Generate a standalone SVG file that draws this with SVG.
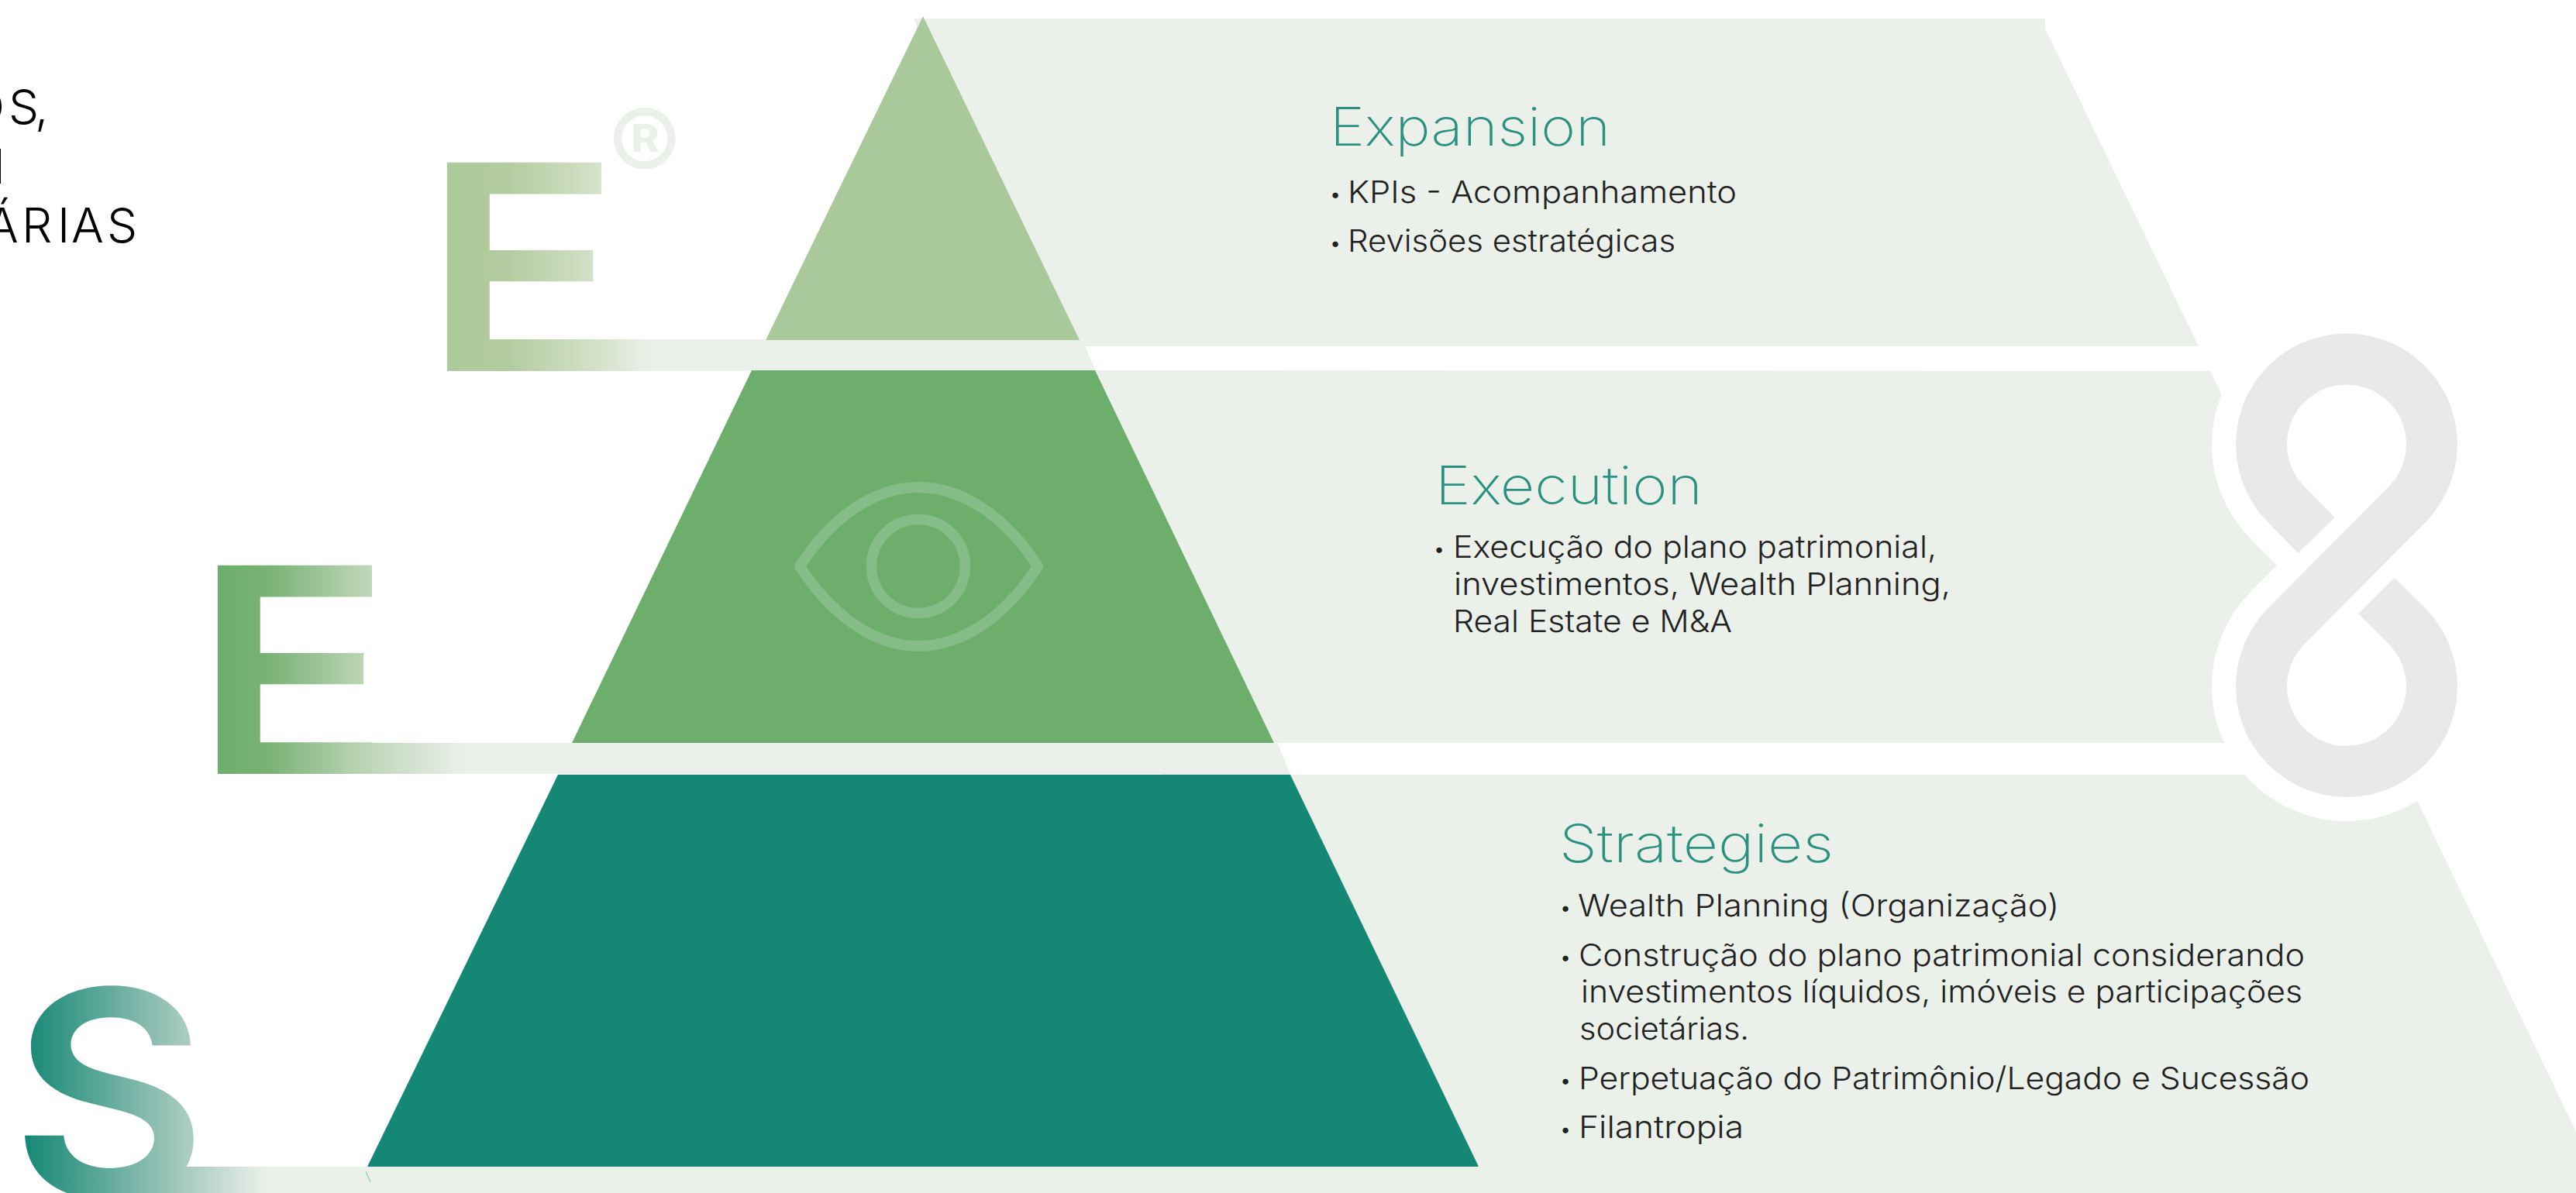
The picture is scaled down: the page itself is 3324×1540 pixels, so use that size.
<svg xmlns="http://www.w3.org/2000/svg" width="3324" height="1540" viewBox="0 0 3324 1540">
<style>
.pale{fill:#ebf0ea}
.body{font-family:Inter,"Open Sans","Liberation Sans",sans-serif;font-size:40px;font-weight:350;fill:#222}
.dot{font-family:Inter,"Open Sans","Liberation Sans",sans-serif;font-size:40px;font-weight:800;fill:#222;text-anchor:middle}
.title{font-family:Inter,"Open Sans","Liberation Sans",sans-serif;font-size:68px;font-weight:200;fill:#2a9080}
.side{font-family:Inter,"Open Sans","Liberation Sans",sans-serif;font-size:62px;font-weight:300;fill:#000}
.big{font-family:Inter,"Open Sans","Liberation Sans",sans-serif;font-size:370px;font-weight:570}
</style>
<defs>
<linearGradient id="g1" gradientUnits="userSpaceOnUse" x1="577" y1="0" x2="840" y2="0"><stop offset="0" stop-color="#aec99a"/><stop offset="0.3" stop-color="#b2cc9f"/><stop offset="0.75" stop-color="#d5e2ca"/><stop offset="1" stop-color="#ebf0ea"/></linearGradient>
<linearGradient id="g2" gradientUnits="userSpaceOnUse" x1="281" y1="0" x2="600" y2="0"><stop offset="0" stop-color="#6eae6c"/><stop offset="0.2" stop-color="#78b274"/><stop offset="0.6" stop-color="#bdd5b7"/><stop offset="1" stop-color="#ebf0ea"/></linearGradient>
<linearGradient id="g3" gradientUnits="userSpaceOnUse" x1="32" y1="0" x2="345" y2="0"><stop offset="0" stop-color="#158875"/><stop offset="0.6" stop-color="#9cc4b8"/><stop offset="1" stop-color="#ebf0ea"/></linearGradient>
</defs>
<g id="side-text">
<text class="side" x="-41 11 45" y="160">OS,</text>
<text class="side" x="7" y="237" text-anchor="end">I</text>
<text class="side" x="-18 28 74 92 138" y="313">ÁRIAS</text>
</g>
<g id="band-expansion">
<polygon class="pale" points="1180,24 2639,24 2639,37 2837,447 1400,447 1413,478 1300,478 1300,438"/>
<polygon fill="url(#g1)" points="620,438 1393,438 1400,447 1414,479 620,479"/>
</g>
<g id="band-execution">
<polygon class="pale" points="1400,478 2852,479 2973,730 2930,959 1648,959 1665,1000 1500,1000 1500,959"/>
<polygon fill="url(#g2)" points="320,959 1644,959 1648,959 1665,999 320,999"/>
</g>
<g id="band-strategies">
<polygon class="pale" points="1600,1000 3103,1000 3324,1461 3324,1540 1600,1540"/>
<rect x="180" y="1506" width="1500" height="34" fill="url(#g3)"/>
</g>
<g id="infinity">
<path d="M2989,691L2950.2,651.3A110,110 0 1 1 3105.8,651.3L2950.2,808.2A110,110 0 1 0 3105.8,808.2L3066.5,769" fill="none" stroke="#fff" stroke-width="128"/>
<path d="M2989,691L2950.2,651.3A110,110 0 1 1 3105.8,651.3L2950.2,808.2A110,110 0 1 0 3105.8,808.2L3066.5,769" fill="none" stroke="#e9e9e9" stroke-width="66"/>
</g>
<g id="tier-expansion">
<polygon fill="#aac99a" points="1191,21 1393,439 988,439"/>
</g>
<g id="tier-execution">
<polygon fill="#6eae6c" points="970,478 1413,478 1644,959 738,959"/>
<path d="M1032,731C1075,665 1130,629 1185,629C1240,629 1297,665 1339,731C1297,797 1240,834 1185,834C1130,834 1075,797 1032,731Z" fill="none" stroke="#85bc87" stroke-width="14" stroke-linejoin="round"/>
<circle cx="1185" cy="731" r="60.5" fill="none" stroke="#85bc87" stroke-width="13.5"/>
</g>
<g id="tier-strategies">
<polygon fill="#158875" points="720,1000 1665,1000 1908,1506 474,1506"/>
<line x1="472" y1="1512" x2="478" y2="1526" stroke="#158875" stroke-width="1.5" opacity="0.35"/>
</g>
<g id="letters">
<text class="big" x="546" y="479" fill="url(#g1)" textLength="255" lengthAdjust="spacingAndGlyphs">E</text>
<text x="832" y="242" font-family="Inter,'Liberation Sans',sans-serif" font-size="140" font-weight="600" fill="#ebf0ea" text-anchor="middle">®</text>
<text class="big" x="250" y="999" fill="url(#g2)" textLength="255" lengthAdjust="spacingAndGlyphs">E</text>
<text class="big" x="14" y="1545" fill="url(#g3)" textLength="254" lengthAdjust="spacingAndGlyphs">S</text>
</g>
<g id="label-expansion">
<text class="title" x="1716" y="188" textLength="362" lengthAdjust="spacingAndGlyphs">Expansion</text>
<text class="dot" x="1723" y="266">·</text>
<text class="body" x="1739" y="262" textLength="502" lengthAdjust="spacingAndGlyphs">KPIs - Acompanhamento</text>
<text class="dot" x="1723" y="329">·</text>
<text class="body" x="1739" y="325" textLength="423" lengthAdjust="spacingAndGlyphs">Revisões estratégicas</text>
</g>
<g id="label-execution">
<text class="title" x="1852" y="651" textLength="345" lengthAdjust="spacingAndGlyphs">Execution</text>
<text class="dot" x="1857" y="724">·</text>
<text class="body" x="1875" y="720" textLength="624" lengthAdjust="spacingAndGlyphs">Execução do plano patrimonial,</text>
<text class="body" x="1876" y="768" textLength="641" lengthAdjust="spacingAndGlyphs">investimentos, Wealth Planning,</text>
<text class="body" x="1875" y="816" textLength="360" lengthAdjust="spacingAndGlyphs">Real Estate e M&amp;A</text>
</g>
<g id="label-strategies">
<text class="title" x="2012" y="1113" textLength="354" lengthAdjust="spacingAndGlyphs">Strategies</text>
<text class="dot" x="2020" y="1187">·</text>
<text class="body" x="2036" y="1183" textLength="621" lengthAdjust="spacingAndGlyphs">Wealth Planning (Organização)</text>
<text class="dot" x="2020" y="1251">·</text>
<text class="body" x="2037" y="1247" textLength="937" lengthAdjust="spacingAndGlyphs">Construção do plano patrimonial considerando</text>
<text class="body" x="2040" y="1294" textLength="931" lengthAdjust="spacingAndGlyphs">investimentos líquidos, imóveis e participações</text>
<text class="body" x="2038" y="1342" textLength="219" lengthAdjust="spacingAndGlyphs">societárias.</text>
<text class="dot" x="2020" y="1410">·</text>
<text class="body" x="2037" y="1406" textLength="943" lengthAdjust="spacingAndGlyphs">Perpetuação do Patrimônio/Legado e Sucessão</text>
<text class="dot" x="2020" y="1473">·</text>
<text class="body" x="2037" y="1469" textLength="213" lengthAdjust="spacingAndGlyphs">Filantropia</text>
</g>
</svg>
